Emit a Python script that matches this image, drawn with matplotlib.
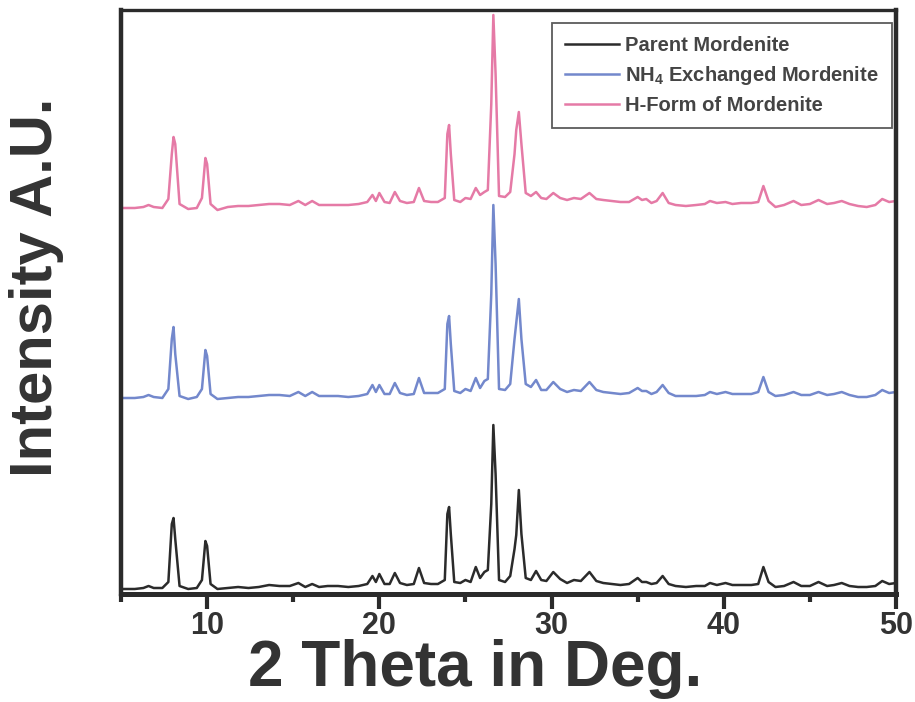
import matplotlib
matplotlib.use("Agg")
import matplotlib.pyplot as plt
from matplotlib.ticker import MultipleLocator

plt.rcParams['font.family'] = ['Liberation Sans', 'DejaVu Sans']
plt.rcParams['font.weight'] = 'bold'
plt.rcParams['mathtext.fontset'] = 'custom'
plt.rcParams['mathtext.rm'] = 'Liberation Sans:bold'
plt.rcParams['mathtext.it'] = 'Liberation Sans:bold'
plt.rcParams['mathtext.default'] = 'rm'

# 2 theta positions (deg) of the traced vertices, shared by all three patterns
two_theta = [5.0, 5.8, 6.3, 6.6, 6.9, 7.4, 7.75, 7.95, 8.05, 8.15, 8.4, 8.9, 9.4, 9.7, 9.9,
             10.0, 10.2, 10.6, 11.2, 11.8, 12.4, 13.0, 13.6, 14.2, 14.8, 15.3, 15.7, 16.1,
             16.5, 17.0, 17.6, 18.2, 18.8, 19.3, 19.6, 19.8, 20.0, 20.3, 20.6, 20.9, 21.2,
             21.6, 22.0, 22.3, 22.6, 23.0, 23.4, 23.8, 23.95, 24.05, 24.15, 24.35, 24.7,
             25.0, 25.3, 25.6, 25.85, 26.1, 26.3, 26.5, 26.62, 26.75, 26.95, 27.3, 27.6,
             27.85, 27.95, 28.1, 28.25, 28.5, 28.8, 29.1, 29.4, 29.7, 30.1, 30.5, 30.9,
             31.3, 31.7, 32.2, 32.6, 33.0, 33.5, 34.0, 34.5, 35.0, 35.25, 35.5, 35.8, 36.1,
             36.45, 36.8, 37.2, 37.8, 38.4, 38.9, 39.2, 39.6, 40.1, 40.5, 41.0, 41.6, 42.0,
             42.3, 42.6, 43.0, 43.5, 44.05, 44.5, 45.0, 45.5, 46.0, 46.4, 46.85, 47.3, 47.8,
             48.3, 48.8, 49.2, 49.6, 50.0]

# intensities (a.u., stacked as drawn)
parent = [5, 5, 6, 8, 6, 6, 12, 70, 76, 55, 8, 5, 6, 14, 53,
          48, 10, 5, 6, 7, 6, 7, 9, 8, 8, 11, 7, 10,
          7, 8, 8, 7, 8, 10, 18, 12, 20, 10, 10, 21, 11,
          9, 10, 26, 11, 10, 10, 14, 80, 87, 60, 12, 11,
          14, 12, 27, 16, 22, 24, 90, 169, 120, 14, 12, 18,
          45, 59, 104, 60, 16, 14, 23, 14, 13, 22, 15, 11,
          14, 13, 22, 13, 11, 10, 9, 10, 16, 12, 12, 10, 11,
          18, 10, 8, 7, 8, 8, 11, 9, 11, 9, 9, 9, 10,
          27, 12, 7, 8, 12, 8, 8, 12, 8, 9, 11, 8, 7,
          7, 8, 13, 10, 11]

nh4 = [196, 196, 197, 199, 197, 196, 205, 255, 267, 240, 198, 195, 197, 205, 244,
       238, 200, 195, 196, 197, 197, 198, 199, 199, 198, 202, 198, 202,
       198, 198, 198, 197, 198, 200, 209, 202, 209, 200, 200, 211, 201,
       199, 200, 216, 201, 201, 201, 205, 270, 278, 250, 203, 201,
       205, 203, 216, 206, 213, 215, 300, 389, 330, 205, 204, 210,
       255, 271, 295, 255, 210, 207, 214, 204, 204, 212, 205, 202,
       204, 203, 212, 204, 202, 201, 200, 201, 206, 203, 203, 200, 202,
       209, 201, 198, 198, 198, 199, 202, 200, 202, 200, 200, 200, 202,
       217, 202, 198, 199, 202, 199, 199, 202, 199, 200, 202, 199, 197,
       197, 199, 204, 201, 202]

hform = [386, 386, 387, 389, 387, 386, 395, 440, 457, 450, 390, 385, 386, 396, 436,
         430, 390, 384, 387, 388, 388, 389, 390, 390, 389, 393, 389, 393,
         389, 389, 389, 389, 390, 392, 399, 393, 401, 392, 391, 402, 393,
         391, 392, 406, 393, 392, 392, 396, 460, 469, 440, 394, 392,
         396, 395, 406, 399, 402, 404, 490, 579, 520, 398, 397, 402,
         440, 464, 482, 450, 401, 398, 402, 396, 395, 401, 396, 394,
         396, 395, 401, 395, 394, 393, 392, 392, 397, 394, 395, 391, 393,
         401, 391, 389, 388, 389, 390, 393, 391, 392, 390, 391, 391, 392,
         408, 393, 387, 389, 393, 389, 390, 394, 390, 391, 393, 390, 388,
         387, 389, 395, 392, 393]

labels = ["Parent Mordenite", "NH$_4$ Exchanged Mordenite", "H-Form of Mordenite"]
colors = ["#2b2b2b", "#7388cc", "#e57aa6"]

fig = plt.figure(figsize=(9.15, 7.02), dpi=100)
ax = fig.add_axes([121 / 915, 1 - 594 / 702, 775 / 915, 584 / 702])

for ys, lab, col in zip([parent, nh4, hform], labels, colors):
    ax.plot(two_theta, ys, color=col, lw=1.8, label=lab)

ax.set_xlim(5, 50)
ax.set_ylim(0, 584)
ax.xaxis.set_major_locator(MultipleLocator(10))
ax.xaxis.set_minor_locator(MultipleLocator(5))
ax.set_yticks([])
ax.tick_params(axis='x', which='major', direction='out', length=11, width=3,
               color='#2b2b2b', labelsize=22, pad=1, labelcolor='#333333')
ax.tick_params(axis='x', which='minor', direction='out', length=6, width=3,
               color='#2b2b2b')
for lab in ax.get_xticklabels():
    lab.set_fontweight('bold')

for side, w in [('left', 3.2), ('bottom', 3.6), ('right', 3.2), ('top', 2.4)]:
    ax.spines[side].set_linewidth(w)
    ax.spines[side].set_color('#2b2b2b')

leg = ax.legend(loc='upper right', bbox_to_anchor=(892 / 915, 1 - 23 / 702),
                bbox_transform=fig.transFigure, borderaxespad=0, fancybox=False,
                frameon=True, edgecolor='#333333', handlelength=2.7,
                handletextpad=0.3, labelspacing=0.45, borderpad=0.65,
                prop={'weight': 'bold', 'size': 14.5})
leg.get_frame().set_linewidth(1.3)
for t in leg.get_texts():
    t.set_color('#444444')

fig.text(37 / 915, 1 - 287 / 702, "Intensity A.U.", rotation=90, ha='center', va='center',
         fontsize=43, fontweight='bold', color='#333333')
fig.text(475 / 915, 1 - 686 / 702, "2 Theta in Deg.", ha='center', va='baseline',
         fontsize=46, fontweight='bold', color='#333333')

fig.savefig("out.png", dpi=100)
